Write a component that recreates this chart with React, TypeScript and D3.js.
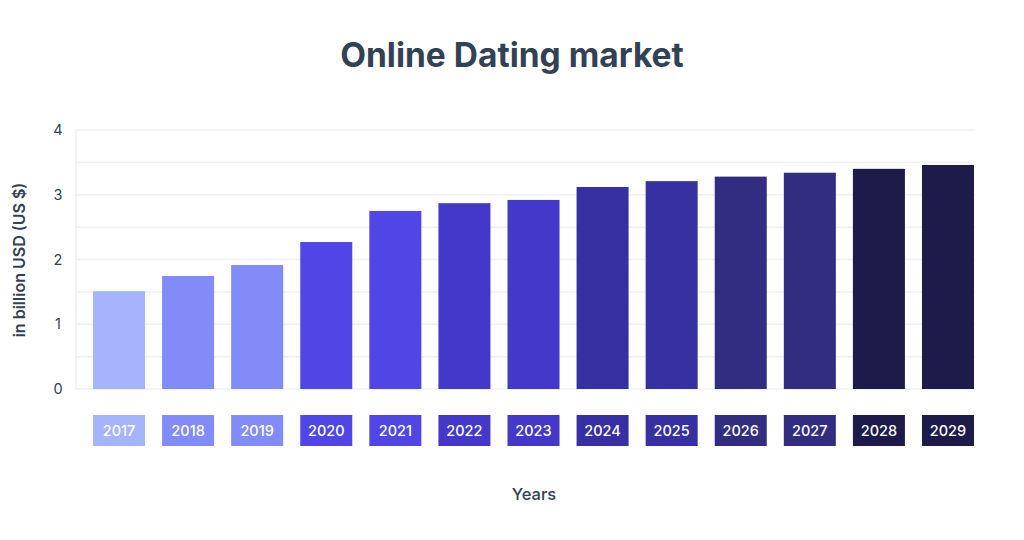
import React from "react";
import * as d3 from "d3";

const years = ["2017","2018","2019","2020","2021","2022","2023","2024","2025","2026","2027","2028","2029"];
const values = [1.51, 1.745, 1.915, 2.27, 2.75, 2.87, 2.92, 3.12, 3.21, 3.28, 3.34, 3.40, 3.46];
const colors = ["#a5b4fc","#818cf8","#818cf8","#4f46e5","#4f46e5","#4338ca","#4338ca","#3730a3","#3730a3","#312e81","#312e81","#1e1b4b","#1e1b4b"];
const yTicks = [0, 1, 2, 3, 4];
const gridTicks = [0, 0.5, 1, 1.5, 2, 2.5, 3, 3.5, 4];

const W = 1024, H = 540;
const FONT = "Inter, 'Noto Sans', sans-serif";
const TEXT = "#334155";

export default function App() {
  const x = d3.scaleBand<string>().domain(years).range([93, 974]).paddingInner(0.247).paddingOuter(0);
  const y = d3.scaleLinear().domain([0, 4]).range([389, 130]);
  const gridLeft = 76, gridRight = 975;
  return (
    <svg width={W} height={H} style={{ position: "absolute", left: 0, top: 0, background: "#fff" }} fontFamily={FONT}>
      <rect width={W} height={H} fill="#fff" />
      <text x={512} y={67} textAnchor="middle" fontSize={33.5} fontWeight={700} fill={TEXT}>Online Dating market</text>
      {gridTicks.map((t) => (
        <line key={t} x1={gridLeft} x2={gridRight} y1={y(t)} y2={y(t)} stroke="#eef0f6" strokeWidth={1.5} />
      ))}
      <line x1={gridLeft} x2={gridLeft} y1={y(4)} y2={y(0)} stroke="#eef0f6" strokeWidth={1.5} />
      {yTicks.map((t) => (
        <text key={t} x={58} y={y(t)} dy="0.35em" textAnchor="middle" fontSize={14.5} fill={TEXT}>{t}</text>
      ))}
      <text transform={`translate(25,${260}) rotate(-90)`} textAnchor="middle" fontSize={16} fontWeight={600} fill={TEXT}>in billion USD (US $)</text>
      {years.map((yr, i) => (
        <rect key={yr} x={x(yr)} y={y(values[i])} width={x.bandwidth()} height={y(0) - y(values[i])} fill={colors[i]} />
      ))}
      {years.map((yr, i) => (
        <g key={"l" + yr}>
          <rect x={x(yr)} y={415} width={x.bandwidth()} height={31} fill={colors[i]} />
          <text x={(x(yr) as number) + x.bandwidth() / 2} y={430.5} dy="0.35em" textAnchor="middle" fontSize={14.5} fontWeight={500} fill="#fff">{yr}</text>
        </g>
      ))}
      <text x={534} y={494} dy="0.35em" textAnchor="middle" fontSize={16.5} fontWeight={500} fill={TEXT}>Years</text>
    </svg>
  );
}
